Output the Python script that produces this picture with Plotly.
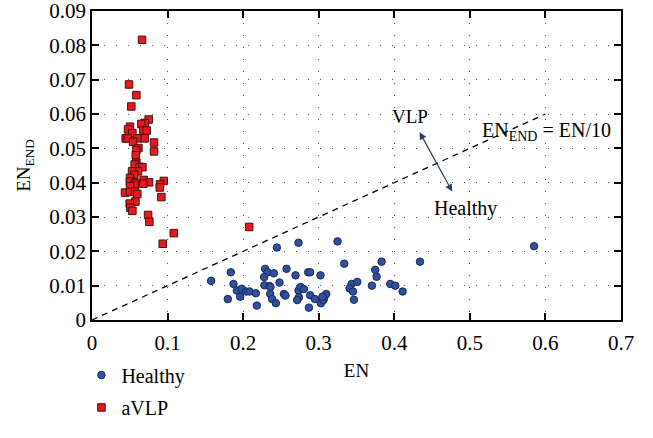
import plotly.graph_objects as go

avlp_en = [0.0662, 0.049, 0.0587, 0.052, 0.075, 0.0698, 0.0653, 0.0503, 0.0477, 0.068,
           0.0724, 0.0534, 0.0446, 0.0473, 0.060, 0.0698, 0.0543, 0.0821, 0.0614, 0.0587,
           0.0821, 0.0579, 0.0587, 0.0565, 0.0631, 0.0667, 0.0609, 0.053, 0.056, 0.0503,
           0.0503, 0.0684, 0.0755, 0.068, 0.0579, 0.095, 0.090, 0.0565, 0.0503, 0.0897,
           0.0437, 0.0503, 0.057, 0.060, 0.0918, 0.0574, 0.0499, 0.0508, 0.0534, 0.0742,
           0.0759, 0.1082, 0.0936, 0.208]
avlp_end = [0.0816, 0.0686, 0.0655, 0.0622, 0.0584, 0.0574, 0.0571, 0.0563, 0.0555, 0.0552,
            0.0552, 0.0544, 0.0529, 0.0529, 0.0529, 0.0529, 0.0519, 0.0517, 0.0501, 0.0495,
            0.0491, 0.048, 0.0458, 0.0453, 0.0446, 0.0445, 0.0433, 0.0433, 0.0423, 0.0414,
            0.0403, 0.0408, 0.0401, 0.0397, 0.0399, 0.0405, 0.0395, 0.0394, 0.039, 0.0386,
            0.0371, 0.0373, 0.0374, 0.0367, 0.0358, 0.0345, 0.0339, 0.0327, 0.0318, 0.0306,
            0.0286, 0.0253, 0.0222, 0.0271]

healthy_en = [0.1576, 0.1837, 0.1872, 0.1916, 0.1797, 0.196, 0.1982, 0.204, 0.2084, 0.2168,
              0.2181, 0.2291, 0.2322, 0.2278, 0.2406, 0.2446, 0.2574, 0.2481, 0.2282, 0.2348,
              0.2362, 0.2358, 0.2384, 0.2433, 0.2539, 0.256, 0.2693, 0.2733, 0.2733, 0.2759,
              0.2804, 0.2738, 0.2715, 0.2861, 0.287, 0.3249, 0.3338, 0.2887, 0.3024, 0.2887,
              0.295, 0.3029, 0.3064, 0.3077, 0.3099, 0.305, 0.3435, 0.351, 0.3408, 0.3453,
              0.3466, 0.3704, 0.3766, 0.3748, 0.3832, 0.3947, 0.4013, 0.411, 0.434, 0.585]
healthy_end = [0.0114, 0.0139, 0.0105, 0.0086, 0.0061, 0.0068, 0.0091, 0.0083, 0.0083, 0.0078,
               0.0042, 0.0149, 0.0139, 0.0125, 0.0136, 0.0211, 0.0149, 0.0109, 0.0101, 0.0099,
               0.0096, 0.0076, 0.0061, 0.0049, 0.0076, 0.0071, 0.013, 0.0225, 0.0086, 0.0096,
               0.009, 0.0066, 0.0058, 0.0139, 0.0036, 0.0229, 0.0164, 0.0139, 0.013, 0.0072,
               0.0061, 0.0049, 0.0058, 0.0068, 0.0076, 0.0068, 0.0105, 0.0111, 0.0092, 0.0083,
               0.0059, 0.01, 0.0126, 0.0146, 0.017, 0.0105, 0.01, 0.0083, 0.017, 0.0215]

line_en = [0.0, 0.6]
line_end = [0.0, 0.06]

FONT = "Liberation Serif, DejaVu Serif, Times New Roman, serif"

fig = go.Figure()
fig.add_trace(go.Scatter(x=line_en, y=line_end, mode="lines", showlegend=False,
                         line=dict(color="black", width=1.3, dash="6px,5px")))
fig.add_trace(go.Scatter(x=healthy_en, y=healthy_end, mode="markers", name="Healthy",
                         marker=dict(symbol="circle", size=7.5, color="#2F50A0",
                                     line=dict(color="#1A2A55", width=1)),
                         legend="legend"))
fig.add_trace(go.Scatter(x=avlp_en, y=avlp_end, mode="markers", name="aVLP",
                         marker=dict(symbol="square", size=7.5, color="#E8191E",
                                     line=dict(color="#4A1010", width=1)),
                         legend="legend2"))

fig.add_annotation(x=0.4335, y=0.0547, ax=0.4777, ay=0.037, xref="x", yref="y",
                   axref="x", ayref="y", showarrow=True, arrowhead=2, startarrowhead=2,
                   arrowside="end+start", arrowsize=1.2, arrowwidth=1.2, text="")
fig.add_annotation(x=0.421, y=0.0592, text="VLP", showarrow=False,
                   font=dict(family=FONT, size=19, color="black"))
fig.add_annotation(x=0.494, y=0.0326, text="Healthy", showarrow=False,
                   font=dict(family=FONT, size=20, color="black"))
fig.add_annotation(x=0.602, y=0.0548, text="EN<sub>END</sub> = EN/10", showarrow=False,
                   font=dict(family=FONT, size=20, color="black"))

axis_common = dict(showline=True, linecolor="black", linewidth=1.5, mirror="ticks",
                   ticks="inside", ticklen=7, tickwidth=2, tickcolor="black",
                   showgrid=True, gridcolor="#555555", gridwidth=1, griddash="1px,11px",
                   zeroline=False, automargin=False, ticklabeloverflow="allow",
                   tickfont=dict(family=FONT, size=21, color="black"))

fig.update_xaxes(range=[0, 0.7], dtick=0.1, tick0=0, ticklabelstandoff=3,
                 title=dict(text="EN", font=dict(family=FONT, size=19, color="black"), standoff=10),
                 **axis_common)
fig.update_yaxes(range=[0, 0.09], dtick=0.01, tick0=0,
                 title=dict(text="EN<sub>END</sub>", font=dict(family=FONT, size=19, color="black"), standoff=14),
                 **axis_common)

legfont = dict(family=FONT, size=20, color="black")
fig.update_layout(
    width=653, height=438,
    font=dict(family=FONT, color="black"),
    margin=dict(l=92, r=32, t=11, b=118),
    plot_bgcolor="white", paper_bgcolor="white",
    legend=dict(x=-0.02, y=-0.115, xanchor="left", yanchor="top", font=legfont,
                bgcolor="rgba(0,0,0,0)", itemwidth=30),
    legend2=dict(x=-0.02, y=-0.22, xanchor="left", yanchor="top", font=legfont,
                 bgcolor="rgba(0,0,0,0)", itemwidth=30),
)

fig.write_html("out.html")
